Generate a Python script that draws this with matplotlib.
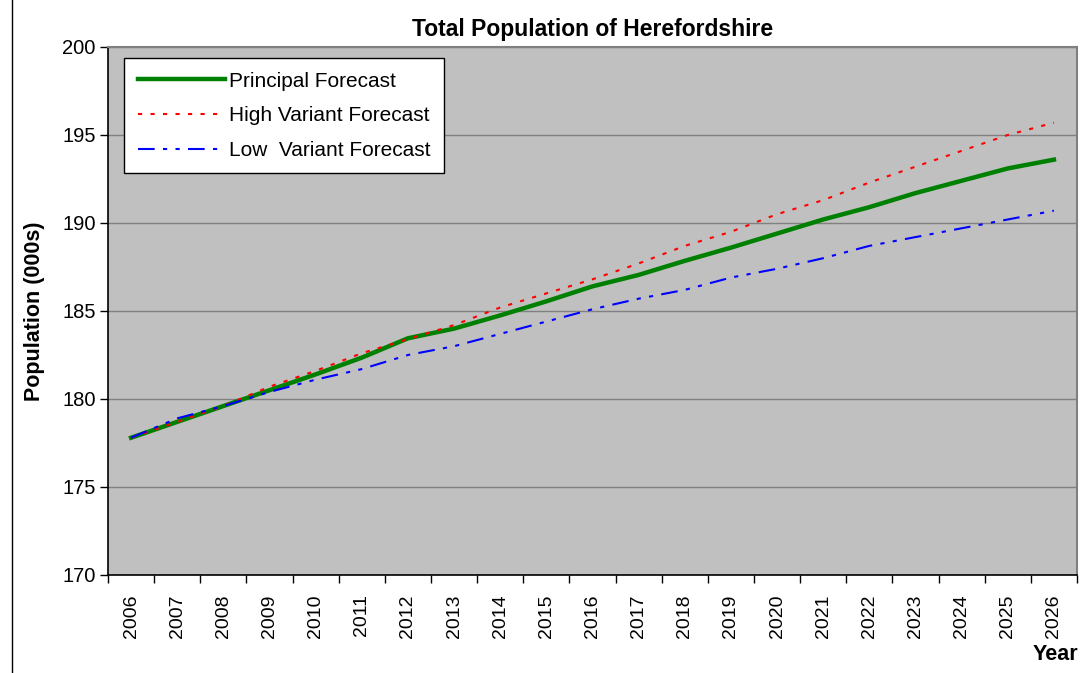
import matplotlib
matplotlib.use('Agg')
import matplotlib.pyplot as plt
import numpy as np
from matplotlib.lines import Line2D

plt.rcParams['font.family'] = ['Liberation Sans', 'DejaVu Sans']

years = [str(y) for y in range(2006, 2027)]
principal = [177.8, 178.7, 179.6, 180.5, 181.4, 182.35, 183.45, 184.0, 184.75, 185.55,
             186.4, 187.05, 187.85, 188.6, 189.4, 190.2, 190.9, 191.7, 192.4, 193.1, 193.6]
high = [177.8, 178.7, 179.6, 180.7, 181.6, 182.6, 183.4, 184.2, 185.2, 186.0,
        186.8, 187.7, 188.7, 189.5, 190.5, 191.3, 192.3, 193.2, 194.1, 195.0, 195.7]
low = [177.8, 178.9, 179.6, 180.4, 181.1, 181.7, 182.5, 183.0, 183.7, 184.4,
       185.1, 185.7, 186.2, 186.9, 187.4, 188.0, 188.7, 189.2, 189.7, 190.2, 190.7]

fig = plt.figure(figsize=(10.85, 6.73), dpi=100)
ax = fig.add_axes([108/1085, 1-575/673, (1077-108)/1085, (575-47)/673])
ax.set_facecolor('#c0c0c0')

x = np.arange(len(years))
ax.plot(x, principal, color='#008000', lw=3.2, label='Principal Forecast', zorder=3)
ax.plot(x, high, color='#ff0000', lw=1.5, ls=(0, (2, 4)), label='High Variant Forecast', zorder=3)
ax.plot(x, low, color='#0000ff', lw=1.5, ls=(0, (8, 4, 2, 4, 2, 4)), label='Low  Variant Forecast', zorder=3)

ax.set_xlim(-0.5, len(years) - 0.5)
ax.set_ylim(170, 200)
ax.set_yticks(range(170, 201, 5))
ax.yaxis.grid(True, color='#808080', lw=1)
ax.set_axisbelow(True)

ax.set_xticks(x)
ax.set_xticklabels(years, rotation=90, fontsize=14)
ax.set_xticks(np.arange(-0.5, len(years)), minor=True)
ax.tick_params(axis='x', which='major', length=0, pad=14)
ax.tick_params(axis='x', which='minor', length=6, width=1, direction='out')
ax.tick_params(axis='y', length=6, width=1, direction='out', labelsize=14.5, pad=3)

for s in ['top', 'right']:
    ax.spines[s].set_color('#808080')
    ax.spines[s].set_linewidth(1.5)
for s in ['left', 'bottom']:
    ax.spines[s].set_color('black')
    ax.spines[s].set_linewidth(1.2)

ax.set_title('Total Population of Herefordshire', fontsize=16.5, fontweight='bold', pad=8)
ax.set_ylabel('Population (000s)', fontsize=15.5, fontweight='bold', labelpad=12)
fig.text(1055/1085, 1-655/673, 'Year', fontsize=15.5, fontweight='bold', ha='center', va='center')

leg = ax.legend(loc='upper left', bbox_to_anchor=(16/969, 1-11/528), fontsize=15,
                frameon=True, fancybox=False, edgecolor='black', framealpha=1,
                handlelength=4.2, handletextpad=0.2, labelspacing=0.75, borderpad=0.65,
                borderaxespad=0)
leg.get_frame().set_linewidth(1)

fig.add_artist(Line2D([12/1085, 12/1085], [0, 1], color='black', lw=1))

fig.savefig('out.png', dpi=100)
